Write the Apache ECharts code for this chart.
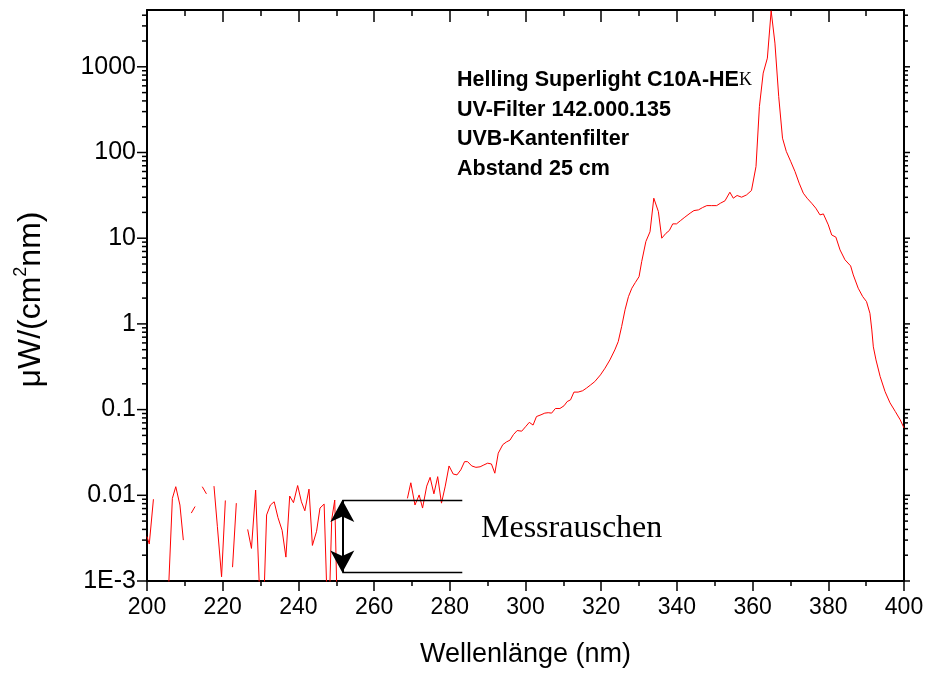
<!DOCTYPE html>
<html>
<head>
<meta charset="utf-8">
<title>Helling Superlight C10A-HEK – Spektrum</title>
<script src="https://cdn.jsdelivr.net/npm/echarts@6/dist/echarts.min.js"></script>
<style>
  html, body { margin: 0; padding: 0; background: #fff; }
  #chart { width: 925px; height: 673px; }
</style>
</head>
<body>
<div id="chart"></div>
<script>
// Wellenlänge in nm und spektrale Bestrahlungsstärke in µW/(cm²nm).
// null = Messwert <= 0 (auf log-Achse nicht darstellbar)
const wavelength = [
  200.0, 200.6, 201.7, 203.5, 205.5, 206.7, 207.6, 208.7, 209.6, 210.6,
  211.7, 212.7, 213.6, 214.6, 215.7, 216.7, 217.7, 218.6, 219.7, 220.7,
  221.6, 222.6, 223.6, 225.0, 226.6, 227.6, 228.7, 230.4, 231.6, 232.6,
  233.6, 234.6, 235.7, 236.7, 237.7, 238.7, 239.8, 240.8, 241.7, 242.8,
  243.7, 244.8, 245.7, 246.8, 247.9, 248.8, 249.6, 250.6, 252.0, 268.8,
  269.7, 270.8, 271.9, 272.8, 273.9, 274.8, 275.8, 276.8, 277.8, 278.8,
  279.8, 280.9, 281.9, 282.9, 283.9, 284.7, 285.8, 286.9, 288.0, 289.0,
  290.0, 291.0, 291.9, 292.8, 294.0, 295.0, 295.9, 296.8, 297.8, 299.0,
  300.0, 301.0, 302.0, 302.9, 304.1, 305.1, 306.0, 306.9, 307.9, 309.1,
  310.2, 311.0, 311.9, 312.8, 313.9, 315.1, 316.1, 317.2, 318.3, 319.8,
  321.0, 322.3, 323.6, 324.5, 325.4, 326.3, 327.2, 328.1, 329.0, 330.0,
  330.7, 331.8, 332.9, 333.9, 335.1, 336.0, 337.1, 338.0, 338.9, 339.9,
  341.0, 342.1, 343.5, 344.5, 345.7, 346.8, 347.9, 349.2, 350.5, 351.5,
  352.7, 354.0, 354.9, 355.9, 357.1, 358.4, 359.7, 360.9, 361.8, 362.8,
  363.9, 364.9, 365.9, 366.9, 367.9, 368.9, 370.1, 371.2, 372.3, 373.4,
  374.4, 375.6, 376.7, 377.8, 378.7, 380.0, 380.9, 382.0, 383.1, 384.4,
  385.9, 386.6, 387.9, 389.1, 390.1, 391.0, 391.5, 391.9, 392.6, 393.7,
  395.0, 396.3, 397.7, 399.0, 400.0
];
const irradiance = [
  0.0033, 0.0027, 0.009, null, 0.0005, 0.0092, 0.0126, 0.0077, 0.003, null,
  0.0062, 0.0074, null, 0.0126, 0.0104, null, 0.0128, 0.0043, 0.00112, 0.0087,
  null, 0.00145, 0.0081, null, 0.004, 0.0024, 0.0115, 0.00013, 0.0059, 0.0077,
  0.0084, 0.0055, 0.0039, 0.0019, 0.0098, 0.0082, 0.013, 0.0084, 0.0066, 0.0118,
  0.0026, 0.0038, 0.0071, 0.0079, 0.0002, 0.0052, 0.0088, 0.0001, null, 0.0092,
  0.014, 0.0077, 0.0101, 0.0071, 0.0128, 0.0162, 0.0104, 0.0165, 0.0081, 0.0128,
  0.022, 0.0177, 0.0173, 0.0198, 0.0247, 0.0247, 0.022, 0.0212, 0.0215, 0.0226,
  0.0237, 0.0232, 0.0181, 0.031, 0.039, 0.042, 0.044, 0.051, 0.057, 0.056,
  0.063, 0.071, 0.066, 0.083, 0.087, 0.091, 0.092, 0.091, 0.103, 0.103,
  0.111, 0.124, 0.13, 0.16, 0.16, 0.166, 0.178, 0.194, 0.212, 0.254,
  0.304, 0.38, 0.497, 0.621, 0.93, 1.46, 2.08, 2.61, 3.03, 3.56,
  5.33, 9.14, 11.9, 29.3, 20.5, 10, 11.4, 12.3, 14.7, 14.7,
  16.1, 17.6, 19.6, 21, 21.4, 22.8, 24, 24, 24, 25.6,
  27.3, 34.4, 29.3, 31.5, 30.1, 32, 36, 68.6, 344, 844,
  1262, 4500, 1890, 450, 147, 103, 78, 60, 43.9, 33.5,
  29.3, 25.6, 22.4, 18.7, 19.2, 14.3, 10.9, 10.3, 7.3, 5.6,
  4.75, 3.73, 2.61, 2.08, 1.82, 1.33, 0.85, 0.54, 0.38, 0.243,
  0.162, 0.12, 0.095, 0.076, 0.061
];

// Achsen
const X_MIN = 200, X_MAX = 400, X_STEP = 20;
const Y_MIN = 0.001, Y_MAX = 4600;
const yDecades = [0.001, 0.01, 0.1, 1, 10, 100, 1000];

// Markierung "Messrauschen": Bandgrenzen und Pfeilposition
const noiseX = [251.6, 283.3];
const noiseLevels = [0.0088, 0.00126];
const arrowX = 251.6;

const INFO_LINES = [
  "Helling Superlight C10A-HE",
  "UV-Filter 142.000.135",
  "UVB-Kantenfilter",
  "Abstand 25 cm",
];

const SANS = "'Liberation Sans', Arial, sans-serif";
const SERIF = "'Liberation Serif', 'Times New Roman', serif";
const RED = "#ff0000";
const BLACK = "#000000";

// log-Teilstriche 1..9 je Dekade (ECharts setzt Nebenstriche auf log-Achsen linear)
const logTicks = [];
yDecades.forEach((d) => {
  for (let k = 1; k <= 9; k++) {
    const v = +(k * d).toPrecision(3);
    if (v <= Y_MAX) logTicks.push([X_MIN, v, k === 1 ? 1 : 0]);
  }
});

const spectrum = wavelength.map((w, i) => [w, irradiance[i]]);

const chart = echarts.init(document.getElementById("chart"));

function renderLogTick(params, api) {
  const v = api.value(1);
  const major = api.value(2) === 1;
  const l = api.coord([X_MIN, v]);
  const r = api.coord([X_MAX, v]);
  const style = { stroke: BLACK, lineWidth: 1.5 };
  return {
    type: "group",
    children: [
      { type: "line", shape: { x1: l[0] - (major ? 10 : 5), y1: l[1], x2: l[0], y2: l[1] }, style },
      { type: "line", shape: { x1: r[0], y1: r[1], x2: r[0] + (major ? 6 : 4), y2: r[1] }, style },
    ],
  };
}

const axisLine = { show: true, onZero: false, lineStyle: { color: BLACK, width: 2 } };

chart.setOption({
  animation: false,
  backgroundColor: "#fff",
  grid: { left: 147, right: 21, top: 10, bottom: 92, outerBoundsMode: "none" },
  xAxis: [
    {
      type: "value",
      min: X_MIN,
      max: X_MAX,
      interval: X_STEP,
      name: "Wellenlänge (nm)",
      nameLocation: "middle",
      nameGap: 60,
      nameTextStyle: { fontFamily: SANS, fontSize: 27, color: BLACK },
      axisLine,
      axisTick: { show: true, length: 10, lineStyle: { color: BLACK, width: 1.5 } },
      minorTick: { show: true, splitNumber: 2, length: 5, lineStyle: { color: BLACK, width: 1.5 } },
      axisLabel: { fontFamily: SANS, fontSize: 23, color: BLACK, margin: 15 },
      splitLine: { show: false },
    },
    {
      type: "value",
      position: "top",
      min: X_MIN,
      max: X_MAX,
      interval: X_STEP,
      axisLine,
      axisTick: { show: true, inside: true, length: 12, lineStyle: { color: BLACK, width: 1.5 } },
      minorTick: { show: true, splitNumber: 2, length: 6, lineStyle: { color: BLACK, width: 1.5 } },
      axisLabel: { show: false },
      splitLine: { show: false },
    },
  ],
  yAxis: [
    {
      type: "log",
      logBase: 10,
      min: Y_MIN,
      max: Y_MAX,
      name: "μW/(cm{sup|2}nm)",
      nameLocation: "middle",
      nameRotate: 90,
      nameGap: 97,
      nameTextStyle: {
        fontFamily: SANS,
        fontSize: 32,
        color: BLACK,
        padding: [0, 8, 0, 0],
        rich: {
          sup: { fontFamily: SANS, fontSize: 18, color: BLACK, verticalAlign: "top", padding: [0, 0, 20, 0] },
        },
      },
      axisLine,
      axisTick: { show: false },
      axisLabel: {
        fontFamily: SANS,
        fontSize: 25,
        color: BLACK,
        margin: 11,
        showMaxLabel: false,
        formatter: (v) => (v < 0.005 ? "1E-3" : String(+v.toPrecision(3))),
      },
      splitLine: { show: false },
    },
    {
      type: "log",
      logBase: 10,
      position: "right",
      min: Y_MIN,
      max: Y_MAX,
      axisLine,
      axisTick: { show: false },
      axisLabel: { show: false },
      splitLine: { show: false },
    },
  ],
  graphic: [
    {
      type: "text",
      left: 457,
      top: 69,
      style: {
        text: INFO_LINES.map((t, i) => (i === 0 ? `{b|${t}}{k|K}` : `{b|${t}}`)).join("\n"),
        rich: {
          b: { fontFamily: SANS, fontWeight: "bold", fontSize: 21.5, lineHeight: 29.7, fill: BLACK },
          k: { fontFamily: SERIF, fontSize: 18, lineHeight: 29.7, fill: BLACK },
        },
      },
    },
    {
      type: "text",
      left: 481,
      top: 513,
      style: { text: "Messrauschen", fontFamily: SERIF, fontSize: 32, fill: BLACK },
    },
  ],
  series: [
    {
      type: "custom",
      xAxisIndex: 0,
      yAxisIndex: 0,
      silent: true,
      clip: false,
      encode: { x: 0, y: 1 },
      data: logTicks,
      renderItem: renderLogTick,
    },
    {
      name: "Spektrum",
      type: "line",
      xAxisIndex: 0,
      yAxisIndex: 0,
      data: spectrum,
      showSymbol: false,
      symbol: "none",
      connectNulls: false,
      clip: true,
      lineStyle: { color: RED, width: 1 },
      itemStyle: { color: RED },
      markLine: {
        silent: true,
        symbol: "none",
        label: { show: false },
        lineStyle: { color: BLACK, width: 1.3, type: "solid" },
        data: [
          [{ coord: [noiseX[0], noiseLevels[0]] }, { coord: [noiseX[1], noiseLevels[0]] }],
          [{ coord: [noiseX[0], noiseLevels[1]] }, { coord: [noiseX[1], noiseLevels[1]] }],
          [
            { coord: [arrowX, noiseLevels[0]], symbol: "arrow", symbolSize: [18, 22], lineStyle: { width: 2 } },
            { coord: [arrowX, noiseLevels[1]], symbol: "arrow", symbolSize: [18, 22], lineStyle: { width: 2 } },
          ],
        ],
      },
    },
  ],
});

window.addEventListener("resize", () => chart.resize());
</script>
</body>
</html>
